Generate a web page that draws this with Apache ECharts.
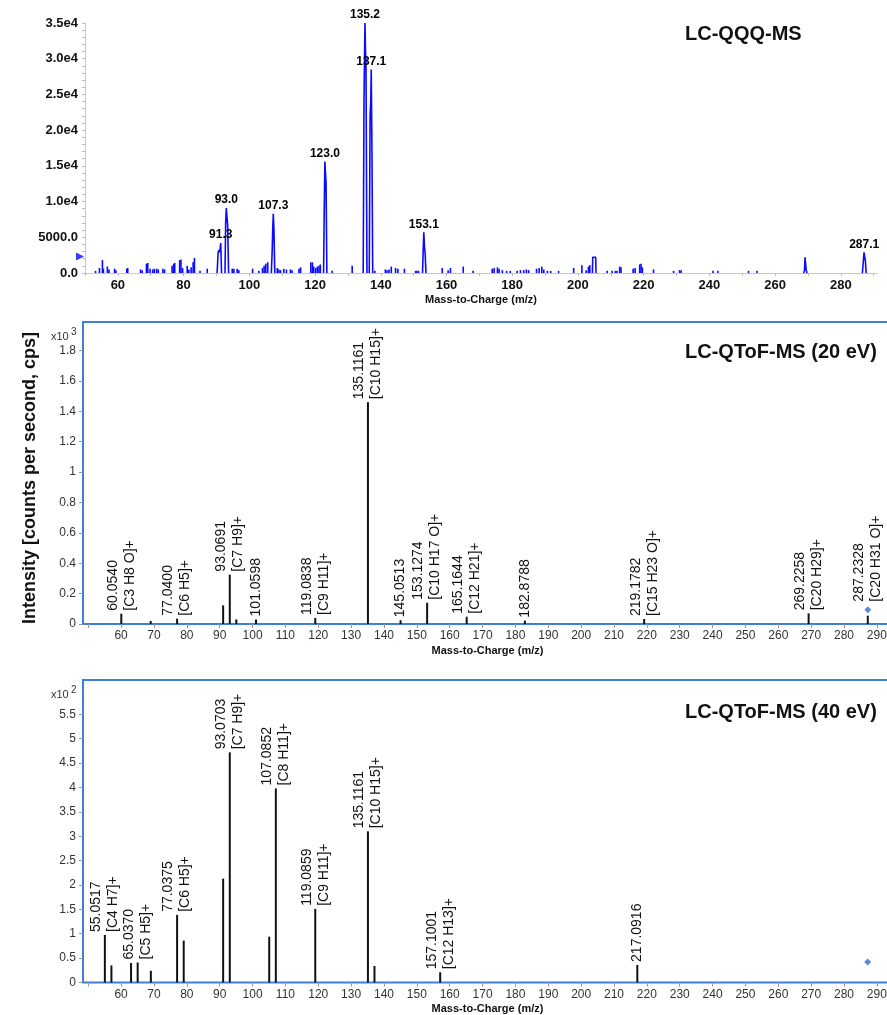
<!DOCTYPE html>
<html>
<head>
<meta charset="utf-8">
<script src="https://cdn.jsdelivr.net/npm/echarts@6/dist/echarts.min.js"></script>
<style>
  html, body { margin: 0; padding: 0; background: #fff; }
  #chart { width: 887px; height: 1015px; }
</style>
</head>
<body>
<div id="chart"></div>
<script>
// ---------------- DATA ----------------
// LC-QQQ-MS profile peaks (m/z, intensity); null separates peaks
const qqqProfileMz = [
  90.2, 90.5, 90.7, 91.0, 91.3, 91.55, null,
  92.6, 92.8, 93.0, 93.2, 93.4, 93.7, null,
  106.7, 106.95, 107.15, 107.3, 107.5, 107.75, null,
  122.6, 122.8, 123.0, 123.2, 123.35, 123.6, null,
  134.65, 134.9, 135.05, 135.2, 135.35, 135.5, 135.8, null,
  136.5, 136.75, 136.95, 137.1, 137.3, 137.55, null,
  152.7, 152.9, 153.1, 153.3, 153.5, 153.75, null,
  204.4, 204.5, 205.4, 205.5, null,
  268.7, 268.95, 269.1, 269.3, 269.45, 269.7, null,
  286.55, 286.8, 287.05, 287.25, 287.45, 287.7
];
const qqqProfileInt = [
  0, 2800, 3200, 2900, 4200, 0, null,
  0, 7000, 9100, 7800, 6800, 0, null,
  0, 3000, 6500, 8300, 6000, 0, null,
  0, 9000, 15600, 13800, 12600, 0, null,
  0, 24000, 30000, 35000, 31000, 29500, 0, null,
  0, 22000, 24000, 28500, 18000, 0, null,
  0, 3000, 5700, 3600, 2800, 0, null,
  0, 2200, 2200, 0, null,
  0, 400, 2200, 2100, 400, 0, null,
  0, 1400, 2900, 2300, 1800, 0
];
// LC-QQQ-MS small noise peaks
const qqqNoiseMz = [53.2, 54.4, 55.3, 55.6, 56.8, 57.3, 59.0, 59.4, 62.7, 63.0, 66.9, 67.4, 68.7, 69.1, 69.8,
  70.6, 71.1, 71.8, 72.3, 73.7, 74.2, 76.5, 77.0, 77.3, 78.8, 79.2, 79.7, 81.1, 81.6, 82.3, 82.9, 83.3,
  85.0, 87.2, 94.8, 95.3, 96.3, 96.8, 101.0, 102.9, 104.0, 104.5, 105.0, 105.6, 108.5, 109.0, 109.5,
  110.5, 111.3, 112.5, 113.0, 115.1, 115.6, 118.7, 119.2, 119.6, 120.2, 120.7, 121.2, 121.6, 125.2,
  131.3, 138.2, 141.4, 141.9, 142.5, 143.2, 144.5, 145.2, 147.2, 150.6, 151.0, 151.5, 158.7, 160.5,
  161.2, 165.1, 168.1, 173.9, 174.5, 175.5, 176.0, 177.0, 178.3, 179.4, 181.5, 182.5, 183.5, 184.3,
  185.0, 187.4, 188.2, 189.0, 189.6, 190.7, 191.7, 194.1, 198.7, 201.2, 202.5, 203.2, 203.6, 208.9,
  210.4, 211.4, 211.9, 212.7, 213.1, 216.8, 217.4, 218.8, 219.2, 219.6, 223.0, 229.1, 230.9, 231.4,
  241.1, 242.6, 251.9, 254.5];
const qqqNoiseInt = [300, 700, 1800, 600, 900, 500, 600, 400, 600, 700, 500, 400, 1300, 1400, 600,
  500, 600, 600, 500, 600, 500, 1000, 1300, 1400, 1800, 1900, 700, 1000, 500, 800, 1500, 2100,
  300, 600, 600, 600, 600, 400, 600, 300, 700, 1000, 1300, 1500, 700, 500, 400,
  600, 500, 500, 400, 600, 800, 1500, 1500, 900, 700, 900, 1000, 1200, 300,
  1000, 300, 500, 400, 500, 900, 700, 600, 600, 300, 300, 300, 700, 400,
  700, 900, 300, 600, 700, 800, 600, 400, 300, 300, 300, 400, 400, 500,
  400, 600, 700, 900, 500, 300, 300, 300, 700, 1100, 400, 900, 1100, 300,
  300, 300, 300, 900, 800, 600, 700, 1200, 1300, 800, 500, 300, 400, 400,
  300, 300, 300, 300];
const qqqPeakLabelMz = [135.2, 137.1, 123.0, 107.3, 93.0, 91.3, 153.1, 287.1];
const qqqPeakLabelInt = [35000, 28500, 15600, 8300, 9100, 4200, 5700, 2900];
const qqqPeakLabels = ['135.2', '137.1', '123.0', '107.3', '93.0', '91.3', '153.1', '287.1'];
const qqqPrecursorLevel = 2300;
const qqqXTicks = [50, 60, 70, 80, 90, 100, 110, 120, 130, 140, 150, 160, 170, 180, 190, 200, 210, 220, 230, 240, 250, 260, 270, 280, 290];
const qqqXLabels = [60, 80, 100, 120, 140, 160, 180, 200, 220, 240, 260, 280];
const qqqYTicks = [0, 1000, 2000, 3000, 4000, 5000, 6000, 7000, 8000, 9000, 10000, 11000, 12000, 13000, 14000, 15000,
  16000, 17000, 18000, 19000, 20000, 21000, 22000, 23000, 24000, 25000, 26000, 27000, 28000, 29000, 30000,
  31000, 32000, 33000, 34000, 35000];
const qqqYLabels = [0, 5000, 10000, 15000, 20000, 25000, 30000, 35000];

// LC-QToF-MS (20 eV), intensity x10^3
const ms20Mz = [60.0540, 69.0, 77.0400, 91.05, 93.0691, 95.05, 101.0598, 119.0838, 135.1161, 145.0513,
  153.1274, 165.1644, 182.8788, 219.1782, 269.2258, 287.2328];
const ms20Int = [0.068, 0.02, 0.035, 0.123, 0.325, 0.03, 0.03, 0.04, 1.46, 0.025,
  0.14, 0.048, 0.022, 0.033, 0.07, 0.055];
const ms20Labels = ['60.0540\n[C3 H8 O]+', '', '77.0400\n[C6 H5]+', '', '93.0691\n[C7 H9]+', '', '101.0598',
  '119.0838\n[C9 H11]+', '135.1161\n[C10 H15]+', '145.0513', '153.1274\n[C10 H17 O]+', '165.1644\n[C12 H21]+',
  '182.8788', '219.1782\n[C15 H23 O]+', '269.2258\n[C20 H29]+', '287.2328\n[C20 H31 O]+'];
const ms20Precursor = [287.2328, 0.094];
const ms20YTicks = [0, 0.2, 0.4, 0.6, 0.8, 1, 1.2, 1.4, 1.6, 1.8];

// LC-QToF-MS (40 eV), intensity x10^2
const ms40Mz = [55.0517, 57.05, 63.02, 65.0370, 69.05, 77.0375, 79.05, 91.05, 93.0703, 105.07,
  107.0852, 119.0859, 135.1161, 137.1, 157.1001, 217.0916];
const ms40Int = [0.975, 0.35, 0.40, 0.41, 0.24, 1.387, 0.86, 2.13, 4.72, 0.94,
  3.98, 1.51, 3.10, 0.34, 0.21, 0.36];
const ms40Labels = ['55.0517\n[C4 H7]+', '', '', '65.0370\n[C5 H5]+', '', '77.0375\n[C6 H5]+', '', '',
  '93.0703\n[C7 H9]+', '', '107.0852\n[C8 H11]+', '119.0859\n[C9 H11]+', '135.1161\n[C10 H15]+', '',
  '157.1001\n[C12 H13]+', '217.0916'];
const ms40Precursor = [287.2, 0.42];
const ms40YTicks = [0, 0.5, 1, 1.5, 2, 2.5, 3, 3.5, 4, 4.5, 5, 5.5];

const qtofXTicks = [50, 60, 70, 80, 90, 100, 110, 120, 130, 140, 150, 160, 170, 180, 190, 200, 210, 220, 230, 240, 250, 260, 270, 280, 290];
const qtofXLabels = [60, 70, 80, 90, 100, 110, 120, 130, 140, 150, 160, 170, 180, 190, 200, 210, 220, 230, 240, 250, 260, 270, 280, 290];

// ---------------- CHART ----------------
const FONT = "'Liberation Sans', Arial, Helvetica, sans-serif";
const BLUE = '#0a0aff';
const FRAME = '#3d7fd9';

const profileData = qqqProfileMz.map((m, i) => m === null ? ['-', '-'] : [m, qqqProfileInt[i]]);
const noiseData = qqqNoiseMz.map((m, i) => [m, qqqNoiseInt[i]]);
const peakLabelData = qqqPeakLabelMz.map((m, i) => [m, qqqPeakLabelInt[i]]);

function stickData(mz, ints, precursorMz) {
  return mz.map((m, i) => {
    const item = { value: [m, ints[i]] };
    if (m === precursorMz) item.label = { distance: 14 };
    return item;
  });
}

const stickLabel = (labels) => ({
  show: true,
  position: 'top',
  distance: 3,
  rotate: 90,
  align: 'left',
  verticalAlign: 'middle',
  fontFamily: FONT,
  fontSize: 14,
  lineHeight: 17,
  color: '#111',
  formatter: p => labels[p.dataIndex]
});

function qtofXAxis(gridIndex) {
  return {
    type: 'value', gridIndex, min: 48.4, max: 294.6,
    axisLine: { show: false },
    axisTick: { show: true, customValues: qtofXTicks, length: 4, lineStyle: { color: '#999' } },
    axisLabel: { customValues: qtofXLabels, fontFamily: FONT, fontSize: 12, color: '#333', margin: 6 },
    splitLine: { show: false },
    name: 'Mass-to-Charge (m/z)', nameLocation: 'middle', nameGap: 21,
    nameTextStyle: { fontFamily: FONT, fontSize: 11, fontWeight: 'bold', color: '#111' }
  };
}
function qtofYAxis(gridIndex, max, ticks) {
  return {
    type: 'value', gridIndex, min: 0, max,
    axisLine: { show: false },
    axisTick: { show: true, customValues: ticks, length: 4, lineStyle: { color: '#999' } },
    axisLabel: { customValues: ticks, fontFamily: FONT, fontSize: 12, color: '#333', margin: 7 },
    splitLine: { show: false }
  };
}

const titleStyle = { fontFamily: FONT, fontSize: 20, fontWeight: 'bold', color: '#111' };

const chart = echarts.init(document.getElementById('chart'), null, { renderer: 'canvas' });
chart.setOption({
  animation: false,
  backgroundColor: '#fff',
  title: [
    { text: 'LC-QQQ-MS', left: 685, top: 24, padding: 0, textStyle: titleStyle },
    { text: 'LC-QToF-MS (20 eV)', left: 685, top: 342, padding: 0, textStyle: titleStyle },
    { text: 'LC-QToF-MS (40 eV)', left: 685, top: 702, padding: 0, textStyle: titleStyle }
  ],
  grid: [
    { left: 85, width: 792, top: 23, height: 250, outerBoundsMode: 'none' },
    { left: 83, width: 809, top: 322, height: 302, show: true, borderColor: FRAME, borderWidth: 2, backgroundColor: 'transparent', outerBoundsMode: 'none' },
    { left: 83, width: 809, top: 680, height: 302.5, show: true, borderColor: FRAME, borderWidth: 2, backgroundColor: 'transparent', outerBoundsMode: 'none' }
  ],
  xAxis: [
    {
      type: 'value', gridIndex: 0, min: 50, max: 291,
      axisLine: { show: true, lineStyle: { color: '#c8c8c8' } },
      axisTick: { show: true, customValues: qqqXTicks, length: 3, lineStyle: { color: '#bbb' } },
      axisLabel: { customValues: qqqXLabels, fontFamily: FONT, fontSize: 13, fontWeight: 'bold', color: '#111', margin: 6 },
      splitLine: { show: false },
      name: 'Mass-to-Charge (m/z)', nameLocation: 'middle', nameGap: 21,
      nameTextStyle: { fontFamily: FONT, fontSize: 11, fontWeight: 'bold', color: '#111' }
    },
    qtofXAxis(1),
    qtofXAxis(2)
  ],
  yAxis: [
    {
      type: 'value', gridIndex: 0, min: 0, max: 35000,
      axisLine: { show: true, lineStyle: { color: '#c8c8c8' } },
      axisTick: { show: true, customValues: qqqYTicks, length: 3, lineStyle: { color: '#bbb' } },
      axisLabel: {
        customValues: qqqYLabels, fontFamily: FONT, fontSize: 13, fontWeight: 'bold', color: '#111', margin: 7,
        formatter: v => (v < 10000 ? v.toFixed(1) : (v / 10000).toFixed(1) + 'e4')
      },
      splitLine: { show: false }
    },
    qtofYAxis(1, 1.988, ms20YTicks),
    qtofYAxis(2, 6.204, ms40YTicks)
  ],
  graphic: [
    {
      type: 'text', left: 21, top: 332, rotation: Math.PI / 2,
      style: { text: 'Intensity [counts per second, cps]', font: "bold 18px 'Liberation Sans', Arial, sans-serif", fill: '#111' }
    },
    { type: 'text', left: 51, top: 331, style: { text: 'x10', font: "11px 'Liberation Sans', Arial, sans-serif", fill: '#333' } },
    { type: 'text', left: 71, top: 327, style: { text: '3', font: "10px 'Liberation Sans', Arial, sans-serif", fill: '#333' } },
    { type: 'text', left: 51, top: 689, style: { text: 'x10', font: "11px 'Liberation Sans', Arial, sans-serif", fill: '#333' } },
    { type: 'text', left: 71, top: 685, style: { text: '2', font: "10px 'Liberation Sans', Arial, sans-serif", fill: '#333' } }
  ],
  series: [
    {
      type: 'bar', xAxisIndex: 0, yAxisIndex: 0, data: noiseData, barWidth: 1.6,
      itemStyle: { color: BLUE }, silent: true
    },
    {
      type: 'line', xAxisIndex: 0, yAxisIndex: 0, data: profileData, showSymbol: false, symbol: 'none',
      connectNulls: false, lineStyle: { color: BLUE, width: 1.6 }
    },
    {
      type: 'scatter', xAxisIndex: 0, yAxisIndex: 0, data: peakLabelData, symbolSize: 2,
      itemStyle: { color: 'rgba(0,0,0,0)' },
      label: {
        show: true, position: 'top', distance: 1, formatter: p => qqqPeakLabels[p.dataIndex],
        fontFamily: FONT, fontSize: 12, fontWeight: 'bold', color: '#000', opacity: 1
      }, z: 5
    },
    {
      type: 'scatter', xAxisIndex: 0, yAxisIndex: 0, data: [[50, qqqPrecursorLevel]], symbol: 'triangle',
      symbolRotate: -90, symbolSize: 8, symbolOffset: [-5, 0], clip: false, itemStyle: { color: BLUE }
    },
    {
      type: 'bar', xAxisIndex: 1, yAxisIndex: 1, data: stickData(ms20Mz, ms20Int, ms20Precursor[0]),
      barWidth: 2, itemStyle: { color: '#111' }, label: stickLabel(ms20Labels)
    },
    {
      type: 'scatter', xAxisIndex: 1, yAxisIndex: 1, data: [ms20Precursor], symbol: 'diamond', symbolSize: 7,
      itemStyle: { color: '#2f6fd6' }
    },
    {
      type: 'bar', xAxisIndex: 2, yAxisIndex: 2, data: stickData(ms40Mz, ms40Int, null),
      barWidth: 2, itemStyle: { color: '#111' }, label: stickLabel(ms40Labels)
    },
    {
      type: 'scatter', xAxisIndex: 2, yAxisIndex: 2, data: [ms40Precursor], symbol: 'diamond', symbolSize: 7,
      itemStyle: { color: '#2f6fd6' }
    }
  ]
});
</script>
</body>
</html>
